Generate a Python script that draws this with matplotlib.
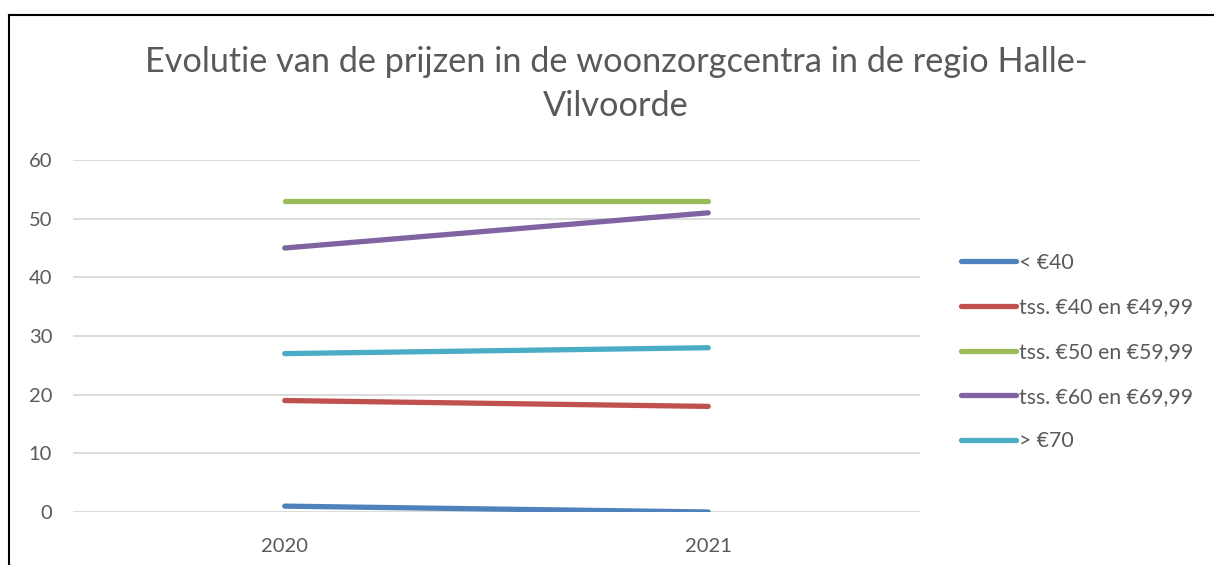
import matplotlib.pyplot as plt
from matplotlib.lines import Line2D

# Data
years = ["2020", "2021"]
labels = ["< €40", "tss. €40 en €49,99", "tss. €50 en €59,99", "tss. €60 en €69,99", "> €70"]
values = [
    [1, 0],
    [19, 18],
    [53, 53],
    [45, 51],
    [27, 28],
]
colors = ["#4F81BD", "#C0504D", "#9BBB59", "#8064A2", "#4BACC6"]

plt.rcParams['font.family'] = ['Lato', 'DejaVu Sans']
text_color = "#595959"

fig = plt.figure(figsize=(12.14, 5.65), dpi=100)
ax = fig.add_axes([73 / 1214, 1 - 512 / 565, (920 - 73) / 1214, (512 - 160) / 565])

x = range(len(years))
for lab, vals, col in zip(labels, values, colors):
    ax.plot(x, vals, color=col, linewidth=3.8, solid_capstyle='round', label=lab)

ax.set_xlim(-0.5, 1.5)
ax.set_ylim(0, 60)
ax.set_yticks(range(0, 61, 10))
ax.set_xticks(list(x))
ax.set_xticklabels(years)
ax.yaxis.grid(True, color="#D9D9D9", linewidth=1.3)
ax.set_axisbelow(True)
for s in ax.spines.values():
    s.set_visible(False)
ax.tick_params(length=0, labelsize=14.5, colors=text_color)
ax.tick_params(axis='y', pad=15)
ax.tick_params(axis='x', pad=19)

leg = ax.legend(loc='center left', bbox_to_anchor=(961 / 1214, 1 - 352 / 565),
                bbox_transform=fig.transFigure, frameon=False, fontsize=15.3,
                handlelength=2.6, handletextpad=0.15, labelspacing=1.16,
                borderaxespad=0, borderpad=0)
for t in leg.get_texts():
    t.set_color(text_color)

fig.text(616 / 1214, 1 - 84 / 565, "Evolutie van de prijzen in de woonzorgcentra in de regio Halle-\nVilvoorde",
         ha='center', va='center', fontsize=24.7, color=text_color, linespacing=1.45)

# frame around the chart
fig.add_artist(Line2D([9 / 1214, 1], [1 - 15 / 565, 1 - 15 / 565], color='black', linewidth=1.5,
                      transform=fig.transFigure))
fig.add_artist(Line2D([9 / 1214, 9 / 1214], [0, 1 - 15 / 565], color='black', linewidth=1.5,
                      transform=fig.transFigure))

plt.savefig("out.png", dpi=100)
